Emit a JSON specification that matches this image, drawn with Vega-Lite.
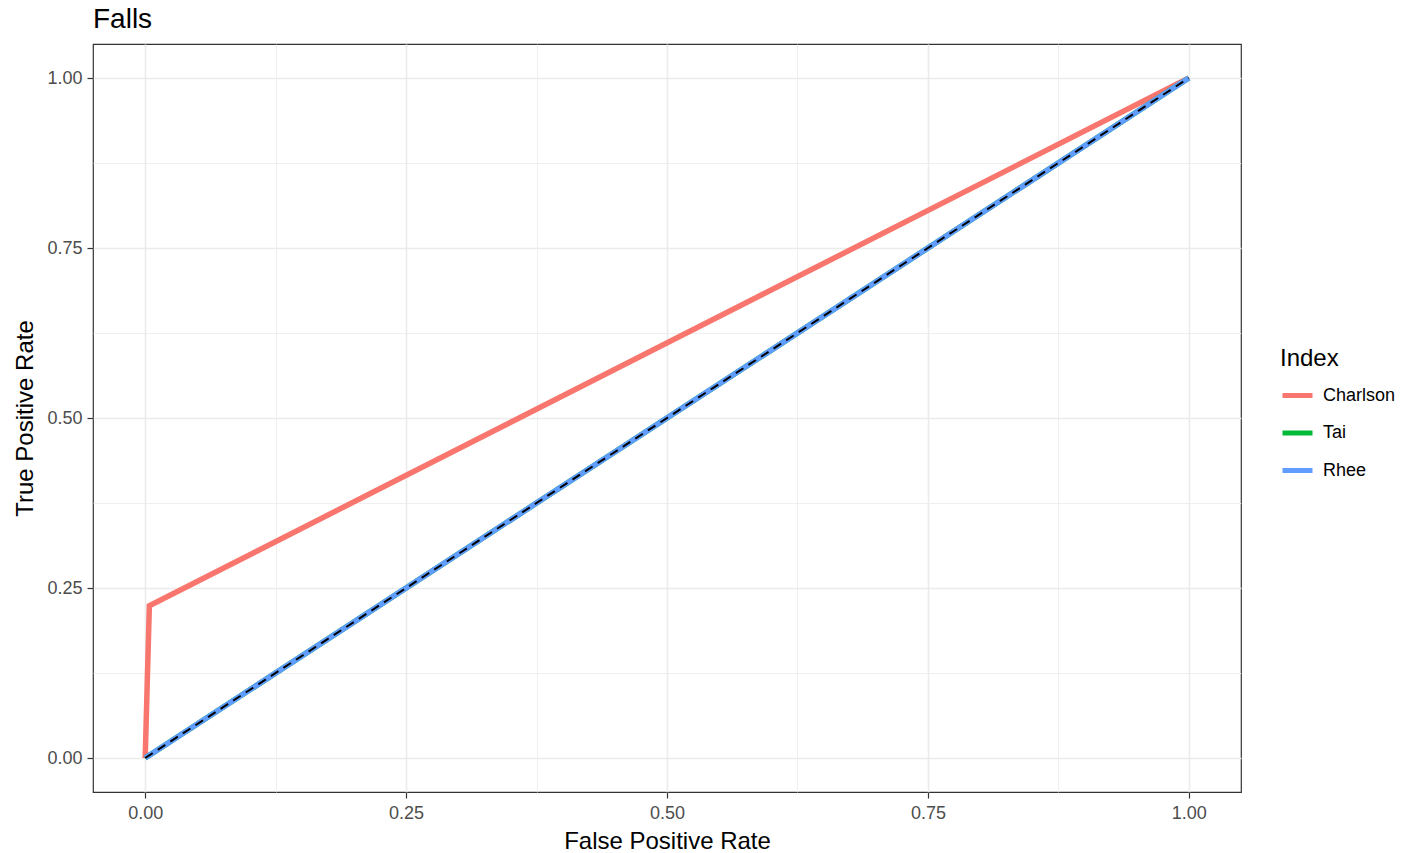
{
  "$schema": "https://vega.github.io/schema/vega-lite/v6.json",
  "autosize": {"type": "none"},
  "width": 1148,
  "height": 748,
  "padding": {"left": 93, "top": 44, "right": 163, "bottom": 61},
  "background": "white",
  "config": {
    "font": "Liberation Sans",
    "view": {"stroke": "#333333", "strokeWidth": 1.2},
    "axis": {
      "domain": false,
      "labelFont": "Liberation Sans",
      "titleFont": "Liberation Sans",
      "labelFontSize": 18,
      "labelColor": "#4D4D4D",
      "titleFontSize": 24,
      "titleFontWeight": "normal",
      "titleColor": "black",
      "tickColor": "#333333",
      "tickSize": 6,
      "tickWidth": 1.2,
      "gridColor": "#EBEBEB"
    },
    "legend": {
      "labelFont": "Liberation Sans",
      "titleFont": "Liberation Sans"
    },
    "title": {"font": "Liberation Sans"}
  },
  "title": {
    "text": "Falls",
    "anchor": "start",
    "fontSize": 28,
    "fontWeight": "normal",
    "color": "black",
    "frame": "group",
    "offset": 10
  },
  "data": {
    "values": [
      {"series": "Charlson", "fpr": 0, "tpr": 0, "ord": 1},
      {"series": "Charlson", "fpr": 0.004, "tpr": 0.224, "ord": 2},
      {"series": "Charlson", "fpr": 1, "tpr": 1, "ord": 3},
      {"series": "Tai", "fpr": 0, "tpr": 0, "ord": 1},
      {"series": "Tai", "fpr": 1, "tpr": 1, "ord": 2},
      {"series": "Rhee", "fpr": 0, "tpr": 0, "ord": 1},
      {"series": "Rhee", "fpr": 1, "tpr": 1, "ord": 2},
      {"series": "ref", "fpr": 0, "tpr": 0, "ord": 1},
      {"series": "ref", "fpr": 1, "tpr": 1, "ord": 2}
    ]
  },
  "encoding": {
    "x": {
      "field": "fpr",
      "type": "quantitative",
      "title": "False Positive Rate",
      "scale": {"domain": [-0.05, 1.05], "nice": false, "zero": false},
      "axis": {
        "values": [0, 0.125, 0.25, 0.375, 0.5, 0.625, 0.75, 0.875, 1],
        "labelExpr": "datum.value % 0.25 === 0 ? format(datum.value, '.2f') : ''",
        "gridWidth": {"condition": {"test": "datum.value % 0.25 === 0", "value": 1.6}, "value": 0.8},
        "tickOpacity": {"condition": {"test": "datum.value % 0.25 === 0", "value": 1}, "value": 0},
        "labelPadding": 6,
        "titlePadding": 7
      }
    },
    "y": {
      "field": "tpr",
      "type": "quantitative",
      "title": "True Positive Rate",
      "scale": {"domain": [-0.05, 1.05], "nice": false, "zero": false},
      "axis": {
        "values": [0, 0.125, 0.25, 0.375, 0.5, 0.625, 0.75, 0.875, 1],
        "labelExpr": "datum.value % 0.25 === 0 ? format(datum.value, '.2f') : ''",
        "gridWidth": {"condition": {"test": "datum.value % 0.25 === 0", "value": 1.6}, "value": 0.8},
        "tickOpacity": {"condition": {"test": "datum.value % 0.25 === 0", "value": 1}, "value": 0},
        "labelPadding": 5,
        "titlePadding": 9
      }
    }
  },
  "layer": [
    {
      "transform": [{"filter": "datum.series !== 'ref'"}],
      "mark": {"type": "line", "strokeWidth": 5.5, "strokeCap": "butt", "strokeJoin": "miter"},
      "encoding": {
        "color": {
          "field": "series",
          "type": "nominal",
          "title": "Index",
          "scale": {"domain": ["Charlson", "Tai", "Rhee"], "range": ["#F8766D", "#00BA38", "#619CFF"]},
          "legend": {
            "orient": "none",
            "legendX": 1187,
            "legendY": 303,
            "titleFontSize": 24,
            "titleFontWeight": "normal",
            "titleColor": "black",
            "titlePadding": 7,
            "labelFontSize": 18,
            "labelColor": "black",
            "symbolType": "stroke",
            "symbolSize": 900,
            "symbolStrokeWidth": 5,
            "rowPadding": 9.5,
            "labelOffset": 8
          }
        },
        "detail": {"field": "series"},
        "order": {"field": "ord", "type": "quantitative"}
      }
    },
    {
      "transform": [{"filter": "datum.series === 'ref'"}],
      "mark": {"type": "line", "color": "black", "strokeWidth": 2, "strokeDash": [9, 6]},
      "encoding": {
        "order": {"field": "ord", "type": "quantitative"}
      }
    }
  ]
}
